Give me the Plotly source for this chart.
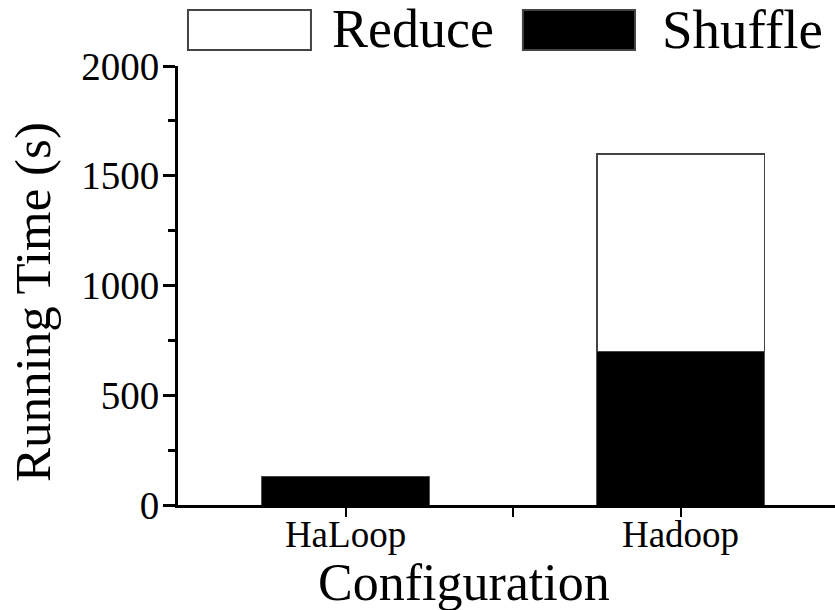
import plotly.graph_objects as go

# Running time breakdown per configuration (seconds)
configurations = ["HaLoop", "Hadoop"]
shuffle_time = [130, 700]
reduce_time = [0, 900]
y_ticks = [0, 500, 1000, 1500, 2000]

FONT = "Liberation Serif, Times New Roman, serif"
x_pos = list(range(len(configurations)))

fig = go.Figure()
fig.add_trace(go.Bar(
    x=x_pos, y=shuffle_time, name="Shuffle", width=0.5,
    marker=dict(color="black", line=dict(color="#555555", width=1)),
    showlegend=False,
))
fig.add_trace(go.Bar(
    x=x_pos, y=reduce_time, name="Reduce", width=0.5,
    marker=dict(color="white", line=dict(color="#444444", width=1.5)),
    showlegend=False,
))

fig.update_layout(
    width=835, height=610,
    margin=dict(l=178, r=0, t=66, b=105),
    barmode="stack",
    plot_bgcolor="white", paper_bgcolor="white",
    font=dict(family=FONT, color="black"),
)

fig.update_xaxes(
    range=[-0.5, 1.461],
    tickmode="array", tickvals=x_pos, ticktext=configurations,
    tickfont=dict(size=37, family=FONT),
    ticks="outside", ticklen=9, tickwidth=2, tickcolor="black",
    ticklabelstandoff=-14,
    minor=dict(tickmode="array", tickvals=[0.5], ticks="outside",
               ticklen=9, tickwidth=2, tickcolor="black"),
    showline=True, linecolor="black", linewidth=2.5,
    showgrid=False, zeroline=False,
)

fig.update_yaxes(
    range=[0, 2000],
    tickmode="array", tickvals=y_ticks,
    tickfont=dict(size=39, family=FONT),
    ticks="outside", ticklen=12, tickwidth=2.5, tickcolor="black",
    ticklabelstandoff=-4,
    minor=dict(dtick=250, ticks="outside", ticklen=7, tickwidth=2.5,
               tickcolor="black"),
    showline=True, linecolor="black", linewidth=3,
    showgrid=False, zeroline=False,
)

# Axis titles
fig.add_annotation(text="Configuration", xref="paper", yref="paper",
                   x=0.4353, y=-0.1754, xanchor="center", yanchor="middle",
                   showarrow=False, font=dict(size=52, family=FONT))
fig.add_annotation(text="Running Time (s)", xref="paper", yref="paper",
                   x=-0.2207, y=0.4624, xanchor="center", yanchor="middle",
                   textangle=-90, showarrow=False, font=dict(size=51, family=FONT))

# Legend drawn above the plot area: swatch boxes and labels
legend_items = [("Reduce", "white", 0.0152, 0.2024, 0.2314, 54),
                ("Shuffle", "black", 0.525, 0.6956, 0.7336, 55)]
for label, color, bx0, bx1, tx, fs in legend_items:
    fig.add_shape(type="rect", xref="paper", yref="paper",
                  x0=bx0, x1=bx1, y0=1.0364, y1=1.1276,
                  fillcolor=color, line=dict(color="#444444", width=2))
    fig.add_annotation(text=label, xref="paper", yref="paper",
                       x=tx, y=1.084, xanchor="left", yanchor="middle",
                       showarrow=False, font=dict(size=fs, family=FONT))

fig.write_html("out.html")
